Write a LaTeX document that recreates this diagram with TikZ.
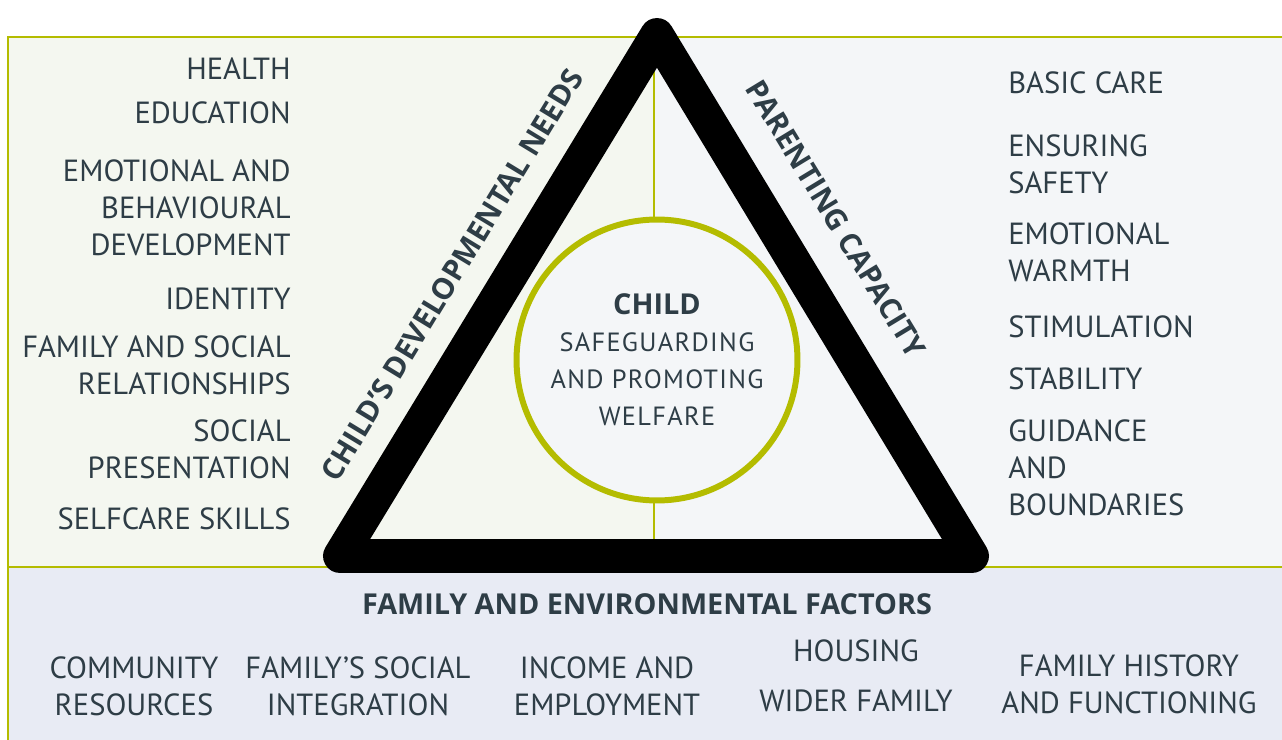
\documentclass[tikz,border=0pt]{standalone}
\usepackage{fontspec}
\setmainfont{PT Sans}
\newfontfamily\spaced[LetterSpace=5]{PT Sans}
\newfontfamily\heavy{Open Sans}
\definecolor{olive}{HTML}{B4BC00}
\definecolor{leftfill}{HTML}{F4F7F0}
\definecolor{rightfill}{HTML}{F4F6F8}
\definecolor{basefill}{HTML}{E8EBF4}
\definecolor{ink}{HTML}{2E3D46}

\begin{document}
\begin{tikzpicture}[x=0.02cm, y=-0.02cm,
	item/.style={text=ink, font=\fontsize{17.4}{21}\selectfont, inner sep=0pt},
	leftitem/.style={item, anchor=east, align=right},
	rightitem/.style={item, anchor=west, align=left},
	baseitem/.style={item, align=center},
	heading/.style={text=ink, font=\fontsize{16.4}{21}\selectfont\heavy\bfseries, inner sep=0pt},
	sidelabel/.style={heading, font=\fontsize{16.8}{21}\selectfont\heavy\bfseries},
	border/.style={olive, line width=1.7pt}]
	\useasboundingbox (0,0) rectangle (1282,740);

	% panels
	\fill[leftfill] (8,37) rectangle (655,567);
	\fill[rightfill] (655,37) rectangle (1282,567);
	\fill[basefill] (8,567) rectangle (1282,740);
	\draw[border] (8,740) -- (8,37) -- (1282,37);
	\draw[border] (8,567) -- (1282,567);
	\draw[olive, line width=1.1pt] (654,37) -- (654,545);

	% triangle
	\coordinate (A) at (657,35);
	\coordinate (L) at (340,556);
	\coordinate (R) at (972,556);
	\draw[line width=19.3pt, line join=round] (L) -- (A) -- (R) -- cycle;

	% child circle
	\node[circle, draw=olive, fill=rightfill, line width=3.4pt, minimum size=282*0.567pt, inner sep=0pt] (child) at (657,360) {};
	\node[text=ink, align=center, inner sep=0pt, font=\fontsize{15}{21}\selectfont] (childtext) at (child.center)
		{{\fontsize{16.4}{21}\selectfont\heavy\bfseries CHILD}\\ \spaced SAFEGUARDING\\ \spaced AND PROMOTING\\ \spaced WELFARE};

	% side labels
	\node[sidelabel, rotate=58.7] (needs) at (452,275) {CHILD’S DEVELOPMENTAL NEEDS};
	\node[sidelabel, rotate=-58.7] (parenting) at (836,219) {PARENTING CAPACITY};

	% child's developmental needs
	\node[leftitem] (health) at (291,69) {HEALTH};
	\node[leftitem] (education) at (291,113) {EDUCATION};
	\node[leftitem] (emotional) at (291,208) {EMOTIONAL AND\\BEHAVIOURAL\\DEVELOPMENT};
	\node[leftitem] (identity) at (291,299) {IDENTITY};
	\node[leftitem] (relations) at (291,365) {FAMILY AND SOCIAL\\RELATIONSHIPS};
	\node[leftitem] (presentation) at (291,449) {SOCIAL\\PRESENTATION};
	\node[leftitem] (selfcare) at (291,519) {SELFCARE SKILLS};

	% parenting capacity
	\node[rightitem] (basiccare) at (1008,83) {BASIC CARE};
	\node[rightitem] (safety) at (1008,164.5) {ENSURING\\SAFETY};
	\node[rightitem] (warmth) at (1008,252) {EMOTIONAL\\WARMTH};
	\node[rightitem] (stimulation) at (1008,327) {STIMULATION};
	\node[rightitem] (stability) at (1008,379) {STABILITY};
	\node[rightitem] (guidance) at (1008,468) {GUIDANCE\\AND\\BOUNDARIES};

	% family and environmental factors
	\node[heading] (factors) at (647,604) {FAMILY AND ENVIRONMENTAL FACTORS};
	\node[baseitem] (community) at (134,686.5) {COMMUNITY\\RESOURCES};
	\node[baseitem] (integration) at (358,686.5) {FAMILY’S SOCIAL\\INTEGRATION};
	\node[baseitem] (income) at (607,686.5) {INCOME AND\\EMPLOYMENT};
	\node[baseitem] (housing) at (856,651) {HOUSING};
	\node[baseitem] (wider) at (856,701) {WIDER FAMILY};
	\node[baseitem] (history) at (1129,684) {FAMILY HISTORY\\AND FUNCTIONING};
\end{tikzpicture}
\end{document}
